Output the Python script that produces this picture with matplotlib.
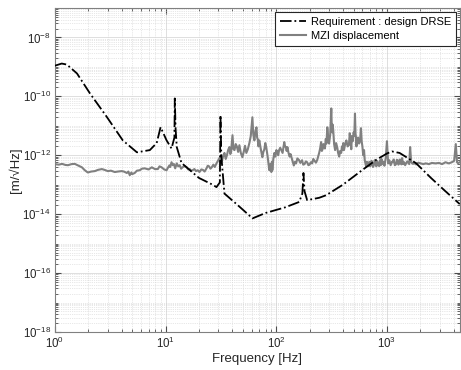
import matplotlib
matplotlib.use("Agg")
import matplotlib.pyplot as plt
from matplotlib.ticker import LogLocator, NullFormatter

plt.rcParams['font.family'] = ['Liberation Sans', 'DejaVu Sans']
plt.rcParams['mathtext.fontset'] = 'custom'
plt.rcParams['mathtext.rm'] = 'Liberation Sans'
plt.rcParams['mathtext.it'] = 'Liberation Sans:italic'

# Requirement : design DRSE
req_freq = [1.0, 1.15, 1.28, 1.58, 2.07, 2.94, 4.1, 5.5, 7.2, 8.3, 9.0, 10.2, 11.3,
            12.0, 12.1, 12.3, 12.6, 13.9, 20.0, 26.6, 28.8, 30.9, 31.3, 31.8, 34.0,
            45.0, 61.0, 80.0, 120.0, 161.0, 172.0, 176.0, 180.0, 190.0, 244.0, 282.0,
            400.0, 595.0, 800.0, 1000.0, 1110.0, 1300.0, 1830.0, 2500.0, 3300.0, 4550.0]
req_asd = [1.1e-9, 1.3e-9, 1.2e-9, 6.0e-10, 1.26e-10, 2.0e-11, 3.2e-12, 1.26e-12, 1.5e-12,
           2.6e-12, 9.0e-12, 3.2e-12, 1.7e-12,
           4.0e-12, 8.5e-11, 8.0e-12, 1.9e-12, 5.5e-13, 1.7e-13, 1.0e-13, 8.3e-14, 1.2e-13,
           2.3e-11, 1.0e-12, 5.0e-14,
           2.0e-14, 7.2e-15, 1.1e-14, 1.7e-14, 2.6e-14, 5.0e-14, 2.5e-13, 6.0e-14, 3.0e-14,
           3.6e-14, 4.4e-14,
           1.0e-13, 3.1e-13, 7.0e-13, 1.15e-12, 1.35e-12, 1.2e-12, 5.4e-13, 1.7e-13,
           6.5e-14, 2.2e-14]

# MZI displacement, in frequency bands
mzi_freq_a = [1.0, 1.08, 1.16, 1.24, 1.31, 1.41, 1.51, 1.62, 1.75, 1.86,
              1.98, 2.12, 2.29, 2.45, 2.65, 2.8, 3.0, 3.2, 3.47, 3.7,
              4.0, 4.2, 4.46, 4.6, 4.74, 4.9, 5.0, 5.25, 5.5, 5.83,
              6.1, 6.47, 7.0, 7.5, 8.0, 8.5, 8.8, 9.2, 9.7]
mzi_asd_a = [5.0e-13, 4.8e-13, 5.1e-13, 4.7e-13, 4.6e-13, 5.0e-13, 5.1e-13, 4.5e-13, 3.9e-13, 3.1e-13,
             2.6e-13, 2.8e-13, 2.9e-13, 3.2e-13, 3.4e-13, 3.2e-13, 2.9e-13, 3.0e-13, 2.7e-13, 2.8e-13,
             2.9e-13, 2.8e-13, 2.5e-13, 2.8e-13, 2.1e-13, 2.6e-13, 2.3e-13, 2.5e-13, 3.0e-13, 3.1e-13,
             3.5e-13, 3.6e-13, 3.3e-13, 3.9e-13, 3.4e-13, 3.4e-13, 4.2e-13, 3.9e-13, 3.3e-13]

mzi_freq_b = [10.2, 10.5, 10.8, 11.0, 11.3, 11.6, 11.9, 12.2, 12.6, 13.0,
              13.4, 13.8, 14.2, 14.8, 15.5, 16.0, 16.5, 17.0, 17.5, 18.2,
              18.8, 19.5, 20.2, 21.0, 21.7, 22.5, 23.4, 24.0, 24.7, 25.4,
              26.1, 27.0, 27.8, 28.8, 29.7, 30.7, 31.5, 32.3, 33.1, 34.0,
              34.9, 35.8, 36.7, 37.7, 38.4, 39.0, 39.6]
mzi_asd_b = [3.1e-13, 3.8e-13, 4.5e-13, 4.0e-13, 5.8e-13, 4.6e-13, 5.0e-13, 3.6e-13, 5.3e-13, 4.2e-13,
             4.6e-13, 3.5e-13, 3.9e-13, 4.3e-13, 3.9e-13, 3.3e-13, 3.4e-13, 3.0e-13, 3.1e-13, 3.4e-13,
             2.9e-13, 3.1e-13, 2.7e-13, 3.3e-13, 3.2e-13, 2.8e-13, 3.6e-13, 4.4e-13, 4.2e-13, 3.5e-13,
             3.9e-13, 4.8e-13, 4.0e-13, 5.3e-13, 6.5e-13, 8.1e-13, 5.5e-13, 6.5e-13, 9.5e-13, 1.2e-12,
             7.5e-13, 1.0e-12, 1.5e-12, 1.9e-12, 1.1e-12, 1.3e-12, 2.6e-12]

mzi_freq_c = [40.2, 41.0, 41.9, 43.0, 44.0, 45.2, 46.4, 47.8, 49.4, 50.2,
              51.0, 52.2, 53.6, 55.3, 57.1, 58.8, 60.8, 62.0, 63.4, 64.8,
              66.2, 67.1, 68.0, 69.0, 70.2, 72.5, 74.8, 76.4, 78.0, 79.5,
              81.1, 83.5, 86.5, 88.4, 90.2, 91.2, 92.1, 94.0, 96.1, 98.0,
              100.2, 102.0, 104.0, 106.0, 108.5, 111.0, 114.0, 118.0, 120.0, 122.0,
              124.0, 126.0, 129.0, 132.0, 134.5, 137.0, 140.5, 144.0, 147.5, 151.0,
              155.0, 160.0, 165.0, 171.0, 175.0, 180.0, 185.0, 190.0, 195.0]
mzi_asd_c = [4.8e-12, 1.6e-12, 1.5e-12, 2.4e-12, 2.0e-12, 1.3e-12, 2.2e-12, 1.2e-12, 8.6e-13, 1.1e-12,
             1.4e-12, 2.1e-12, 1.2e-12, 1.6e-12, 2.6e-12, 4.5e-12, 1.95e-11, 5.0e-12, 3.2e-12, 6.5e-12,
             8.9e-12, 4.0e-12, 3.5e-12, 2.0e-12, 3.2e-12, 1.6e-12, 8.6e-13, 1.3e-12, 1.6e-12, 2.6e-12,
             1.9e-12, 9.0e-13, 3.1e-13, 5.0e-13, 2.7e-13, 6.0e-13, 3.1e-13, 7.5e-13, 1.2e-12, 9.0e-13,
             1.5e-12, 1.3e-12, 1.0e-12, 1.5e-12, 1.8e-12, 1.5e-12, 1.2e-12, 2.8e-12, 2.0e-12, 1.9e-12,
             1.4e-12, 1.9e-12, 1.2e-12, 9.0e-13, 1.1e-12, 8.6e-13, 6.0e-13, 4.5e-13, 6.0e-13, 5.3e-13,
             7.8e-13, 7.0e-13, 5.5e-13, 6.8e-13, 4.8e-13, 5.0e-13, 6.2e-13, 5.8e-13, 4.6e-13]

mzi_freq_d = [200.0, 205.0, 211.0, 216.0, 222.0, 228.0, 234.0, 239.0, 244.0, 249.0,
              254.0, 258.0, 262.0, 266.0, 271.0, 275.0, 280.0, 284.0, 289.0, 294.0,
              300.0, 307.0, 314.0, 317.0, 320.0, 323.0, 327.0, 333.0, 340.0, 347.0,
              355.0, 362.0, 370.0, 378.0, 386.0, 392.0, 398.0, 403.0, 409.0, 420.0,
              430.0, 441.0, 453.0, 461.0, 470.0, 476.0, 482.0, 491.0, 500.0, 507.0,
              514.0, 520.0, 525.0, 530.0, 536.0, 548.0, 560.0, 571.0, 582.0, 591.0,
              600.0, 610.0, 621.0, 630.0, 640.0, 650.0, 660.0, 676.0, 693.0]
mzi_asd_d = [4.8e-13, 5.8e-13, 5.3e-13, 7.5e-13, 6.5e-13, 5.6e-13, 6.8e-13, 9.0e-13, 1.2e-12, 1.7e-12,
             2.8e-12, 1.4e-12, 1.6e-12, 2.4e-12, 2.2e-12, 1.7e-12, 3.5e-12, 2.5e-12, 8.9e-12, 4.5e-12,
             2.5e-12, 5.0e-12, 3.9e-11, 1.0e-11, 6.0e-12, 1.1e-11, 7.1e-12, 2.4e-12, 1.5e-12, 2.6e-12,
             1.9e-12, 1.2e-12, 9.0e-13, 1.4e-12, 1.2e-12, 2.0e-12, 1.5e-12, 2.6e-12, 1.5e-12, 2.5e-12,
             3.2e-12, 2.0e-12, 2.2e-12, 5.6e-12, 3.0e-12, 1.6e-12, 4.5e-12, 3.0e-12, 6.0e-12, 4.5e-12,
             2.6e-11, 5.5e-12, 4.1e-12, 2.0e-12, 3.5e-12, 4.0e-12, 2.5e-12, 3.0e-12, 8.3e-12, 3.0e-12,
             2.0e-12, 1.0e-12, 1.5e-12, 6.8e-13, 5.3e-13, 4.0e-13, 6.0e-13, 4.3e-13, 6.0e-13]

mzi_freq_e = [704.0, 715.0, 725.0, 735.0, 748.0, 760.0, 775.0, 790.0, 802.0, 815.0,
              832.0, 850.0, 865.0, 880.0, 892.0, 904.0, 927.0, 950.0, 975.0, 1000.0,
              1025.0, 1050.0, 1080.0, 1110.0, 1130.0, 1150.0, 1178.0, 1205.0, 1228.0, 1250.0,
              1270.0, 1290.0, 1310.0, 1330.0, 1350.0, 1370.0, 1400.0, 1430.0, 1460.0, 1490.0,
              1525.0, 1560.0, 1590.0, 1620.0, 1655.0, 1690.0, 1725.0, 1760.0, 1795.0, 1830.0,
              1920.0, 2020.0, 2130.0, 2240.0, 2400.0, 2540.0, 2750.0, 2950.0, 3150.0, 3380.0,
              3620.0, 3860.0, 4050.0, 4190.0, 4300.0, 4380.0, 4550.0]
mzi_asd_e = [4.2e-13, 4.6e-13, 6.5e-13, 5.6e-13, 4.0e-13, 4.5e-13, 6.8e-13, 5.3e-13, 4.2e-13, 6.4e-13,
             4.8e-13, 4.3e-13, 6.8e-13, 4.6e-13, 7.5e-13, 5.0e-13, 6.0e-13, 4.4e-13, 8.1e-13, 3.0e-12,
             5.3e-13, 6.8e-13, 4.6e-13, 6.0e-13, 5.8e-13, 7.2e-13, 4.6e-13, 4.9e-13, 7.0e-13, 6.8e-13,
             4.8e-13, 5.5e-13, 7.2e-13, 5.8e-13, 4.9e-13, 8.0e-13, 5.0e-13, 5.8e-13, 4.6e-13, 5.3e-13,
             6.2e-13, 5.6e-13, 5.0e-13, 1.9e-12, 6.0e-13, 5.3e-13, 5.1e-13, 5.6e-13, 5.2e-13, 4.9e-13,
             5.6e-13, 5.3e-13, 5.0e-13, 5.3e-13, 5.0e-13, 5.5e-13, 5.3e-13, 5.5e-13, 5.0e-13, 5.8e-13,
             5.3e-13, 5.8e-13, 6.5e-13, 2.4e-12, 5.8e-13, 5.4e-13, 5.8e-13]

mzi_freq = mzi_freq_a + mzi_freq_b + mzi_freq_c + mzi_freq_d + mzi_freq_e
mzi_asd = mzi_asd_a + mzi_asd_b + mzi_asd_c + mzi_asd_d + mzi_asd_e

fig = plt.figure(figsize=(4.61, 3.70), dpi=100)
ax = fig.add_axes([0.1193, 0.1027, 0.878, 0.8757])

ax.loglog(req_freq, req_asd, color='black', linestyle='-.', linewidth=1.3,
          label='Requirement : design DRSE', zorder=3)
ax.loglog(mzi_freq, mzi_asd, color='#808080', linestyle='-', linewidth=1.5,
          label='MZI displacement', zorder=2)

ax.set_xlim(1, 4550)
ax.set_ylim(1e-18, 1e-7)

ax.set_yticks([1e-18, 1e-16, 1e-14, 1e-12, 1e-10, 1e-8])
ax.yaxis.set_minor_locator(LogLocator(base=10, subs=tuple(range(1, 10)), numticks=100))
ax.yaxis.set_minor_formatter(NullFormatter())
ax.set_xticks([1, 10, 100, 1000])
ax.xaxis.set_minor_locator(LogLocator(base=10, subs=tuple(range(2, 10)), numticks=100))
ax.xaxis.set_minor_formatter(NullFormatter())

ax.grid(True, which='major', color='#d9d9d9', linewidth=0.6, linestyle='-')
ax.grid(True, which='minor', color='#d0d0d0', linewidth=0.5, linestyle=':')
ax.set_axisbelow(True)

ax.tick_params(which='both', direction='in', top=True, right=True,
               colors='#4d4d4d', labelcolor='#262626')
ax.tick_params(which='major', length=4, labelsize=8.3, pad=3)
ax.tick_params(which='minor', length=2)
for s in ax.spines.values():
    s.set_color('#808080')
    s.set_linewidth(0.8)

ax.set_xlabel('Frequency [Hz]', fontsize=9.5, color='#262626')
ax.set_ylabel('[m/\u221aHz]', fontsize=9.5, color='#262626')
ax.xaxis.set_label_coords(0.5, -0.066)
ax.yaxis.set_label_coords(-0.082, 0.5)

leg = ax.legend(loc='upper right', fontsize=8, frameon=True, fancybox=False,
                edgecolor='#262626', framealpha=1, borderpad=0.45, labelspacing=0.35,
                handlelength=2.3, handletextpad=0.45, borderaxespad=0.35)
leg.get_frame().set_linewidth(0.8)

fig.savefig('out.png', dpi=100)
